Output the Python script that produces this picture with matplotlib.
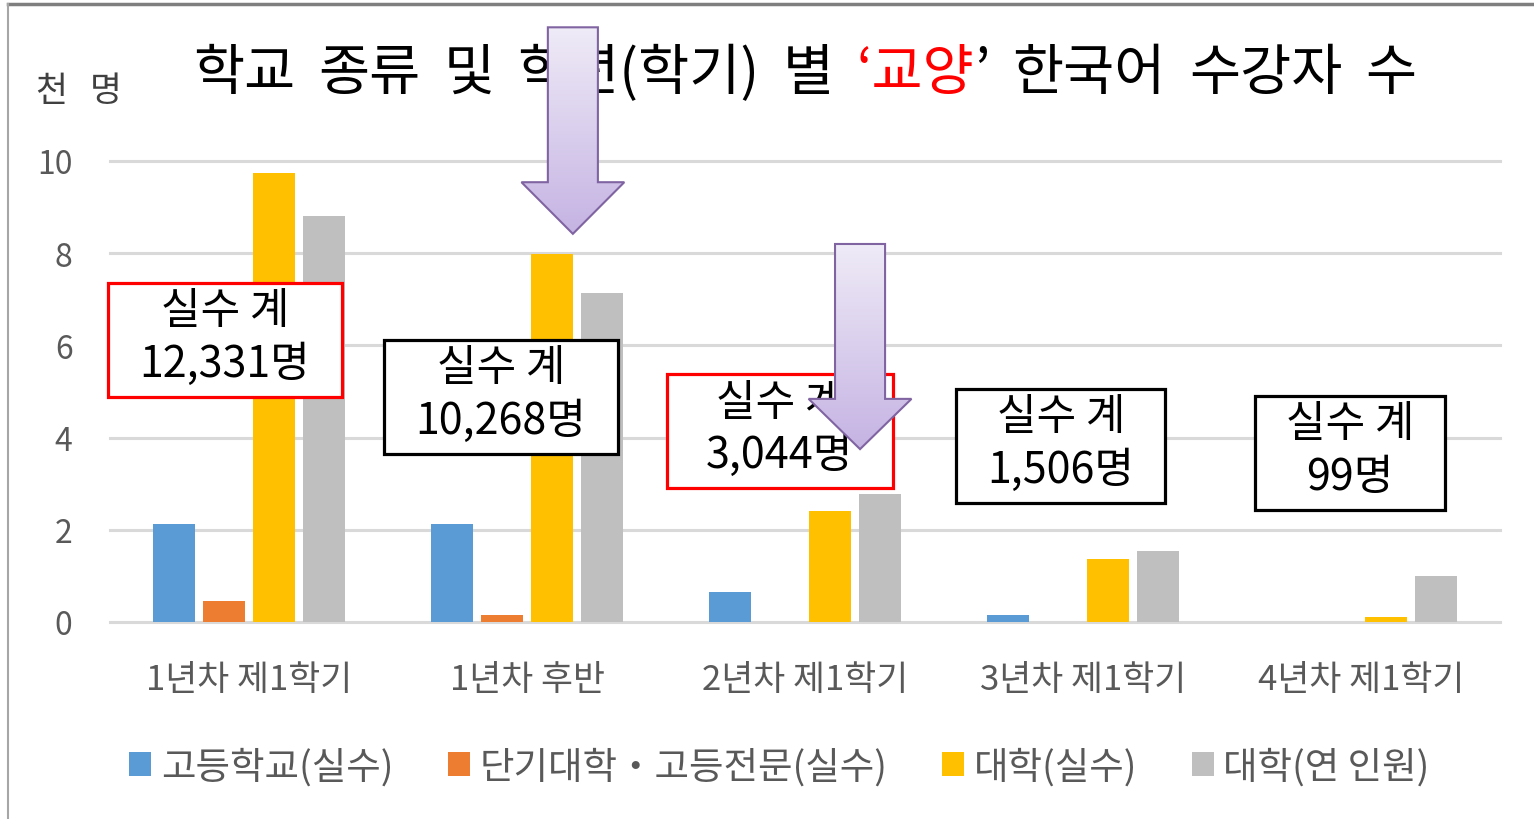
import numpy as np
import matplotlib
matplotlib.use("Agg")
from matplotlib import pyplot as plt
from matplotlib.patches import Polygon, Rectangle
from matplotlib.lines import Line2D

plt.rcParams['font.family'] = ['Noto Sans CJK KR', 'DejaVu Sans']

# 데이터 (천 명)
periods = ['1년차 제1학기', '1년차 후반', '2년차 제1학기', '3년차 제1학기', '4년차 제1학기']
series = ['고등학교(실수)', '단기대학・고등전문(실수)', '대학(실수)', '대학(연 인원)']
koko = [2.13, 2.13, 0.65, 0.15, 0.0]
tanki = [0.46, 0.15, 0.0, 0.0, 0.0]
daigaku = [9.74, 7.99, 2.40, 1.36, 0.10]
daigaku_nobe = [8.81, 7.14, 2.78, 1.54, 1.00]
totals = ['12,331명', '10,268명', '3,044명', '1,506명', '99명']
colors = ['#5b9bd5', '#ed7d31', '#ffc000', '#bfbfbf']

W, H = 1534, 820
fig = plt.figure(figsize=(W / 100, H / 100), dpi=100)
ax = fig.add_axes([110 / W, 1 - 623 / H, 1390 / W, (623 - 162) / H])

x = np.arange(len(periods))
step = 0.18
width = 0.148
for i, (vals, c) in enumerate(zip([koko, tanki, daigaku, daigaku_nobe], colors)):
    ax.bar(x + (i - 1.5) * step, vals, width, color=c, label=series[i], zorder=2)

ax.set_xlim(-0.5, 4.5)
ax.set_ylim(0, 10)
for s in ax.spines.values():
    s.set_visible(False)
for yv in range(0, 11, 2):
    ax.axhline(yv, color='#d9d9d9', lw=2.2, zorder=1, clip_on=False)
ax.set_yticks(range(0, 11, 2))
ax.set_xticks(x)
ax.set_xticklabels(periods)
ax.tick_params(axis='both', length=0, colors='#595959')
ax.tick_params(axis='x', pad=29, labelsize=25)
ax.tick_params(axis='y', pad=27, labelsize=23)

# 실수 계 박스
box_x = [-0.086, 0.906, 1.91, 2.92, 3.96]
box_y = [6.12, 4.88, 4.14, 3.82, 3.67]
box_w = [0.842, 0.842, 0.813, 0.752, 0.683]
box_h = 2.47
box_ec = ['red', 'black', 'red', 'black', 'black']
for bx, by, bw, tot, ec in zip(box_x, box_y, box_w, totals, box_ec):
    ax.add_patch(Rectangle((bx - bw / 2, by - box_h / 2), bw, box_h, fc='white', ec=ec,
                           lw=2.3, zorder=4, clip_on=False))
    ax.text(bx, by + 0.05, '실수 계\n' + tot, ha='center', va='center', fontsize=31,
            linespacing=1.25, zorder=5)

# 제목 (‘교양’만 빨간색), 단어 사이 간격을 넓게
title_words = ['학교', '종류', '및', '학년(학기)', '별', '‘교양', '’', '한국어', '수강자', '수']
title_c = ['black'] * 5 + ['red'] + ['black'] * 4
title_gap = [0, 16.5, 16.5, 16.5, 16.5, 16.5, 0, 16.5, 16.5, 16.5]
prev = ax.text(193 / W, 1 - 74 / H, title_words[0], transform=fig.transFigure, fontsize=40,
               va='center', ha='left', color=title_c[0])
for wd, tc, gp in zip(title_words[1:], title_c[1:], title_gap[1:]):
    prev = ax.annotate(wd, xy=(1, 0.5), xycoords=prev, xytext=(gp, 0),
                       textcoords='offset points', fontsize=40, va='center', ha='left',
                       color=tc)

fig.text(35 / W, 1 - 92 / H, '천', fontsize=25, color='#404040', va='center', ha='left')
fig.text(90 / W, 1 - 92 / H, '명', fontsize=25, color='#404040', va='center', ha='left')

# 범례
fig.legend(loc='center', bbox_to_anchor=(0.508, 1 - 768 / H), ncol=4, frameon=False,
           fontsize=27, labelcolor='#595959', handlelength=0.6, handleheight=0.6,
           handletextpad=0.25, columnspacing=1.45)

# 테두리
fig.add_artist(Line2D([8 / W, 1], [1 - 5 / H, 1 - 5 / H], color='#7f7f7f', lw=2.5))
fig.add_artist(Line2D([8 / W, 8 / W], [0, 1 - 5 / H], color='#a6a6a6', lw=1.5))

# 보라색 화살표 (그라데이션)
ov = fig.add_axes([0, 0, 1, 1], zorder=5)
ov.axis('off')
to_fig = fig.transFigure.inverted()


def block_arrow(xc, ytop, ybase, ytip, shaft, head):
    pts = [(xc - shaft, ytop), (xc + shaft, ytop), (xc + shaft, ybase), (xc + head, ybase),
           (xc, ytip), (xc - head, ybase), (xc - shaft, ybase)]
    pf = to_fig.transform(ax.transData.transform(pts))
    poly = Polygon(pf, closed=True, fc='none', ec='#8064a2', lw=1.5, zorder=3)
    ov.add_patch(poly)
    x0, x1 = pf[:, 0].min(), pf[:, 0].max()
    y0, y1 = pf[:, 1].min(), pf[:, 1].max()
    grad = np.linspace(0, 1, 256).reshape(-1, 1)
    cmap = matplotlib.colors.LinearSegmentedColormap.from_list('p', ['#c5b3e3', '#efebf7'])
    im = ov.imshow(grad, cmap=cmap, extent=(x0, x1, y0, y1), origin='lower',
                   aspect='auto', zorder=2)
    im.set_clip_path(poly)


block_arrow(1.165, 12.9, 9.54, 8.42, 0.09, 0.185)
block_arrow(2.198, 8.2, 4.84, 3.75, 0.09, 0.185)
ov.set_xlim(0, 1)
ov.set_ylim(0, 1)

fig.savefig('out.png', dpi=100)
